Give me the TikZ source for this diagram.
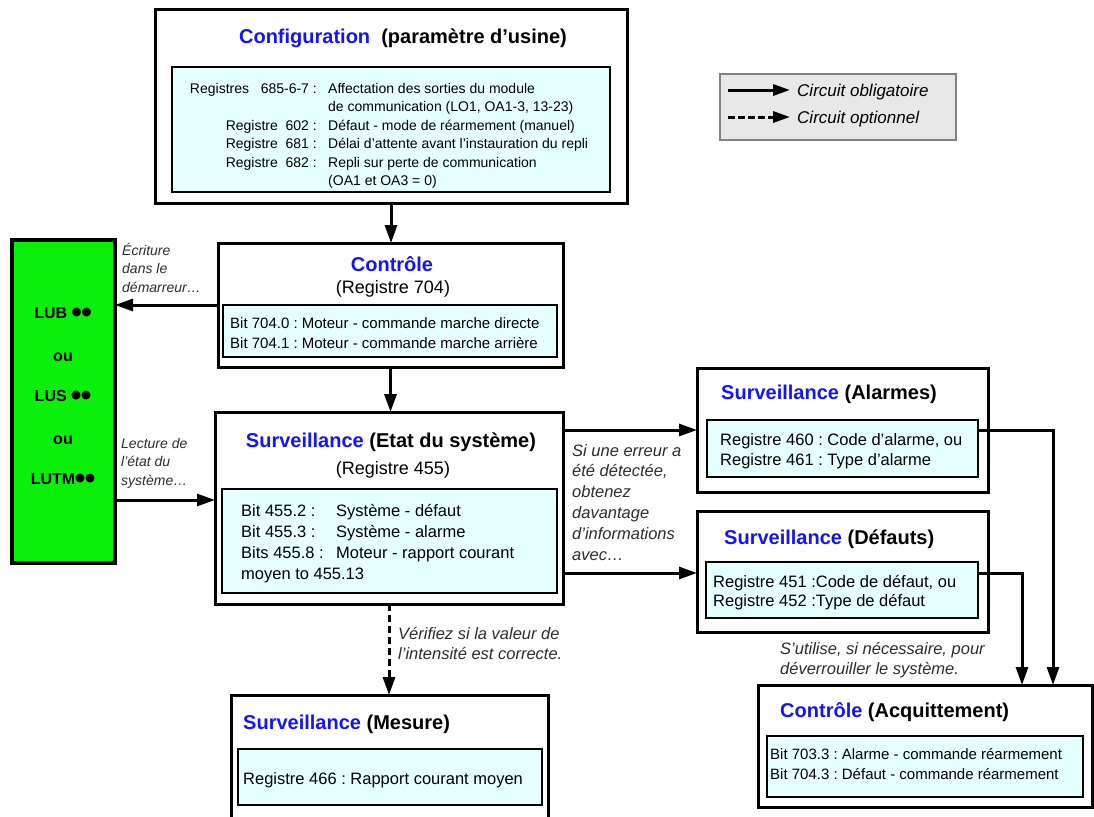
\documentclass[tikz,border=0pt]{standalone}
\usepackage{fontspec}
\setmainfont{Liberation Sans}
\newfontfamily\dvfont{DejaVu Sans}
\usetikzlibrary{arrows.meta}
\definecolor{ttlblue}{RGB}{20,20,245}
\definecolor{cyanfill}{RGB}{230,255,255}
\definecolor{lgdfill}{RGB}{232,232,232}
\definecolor{lgdline}{RGB}{130,130,130}
\definecolor{grn}{RGB}{10,240,10}
\definecolor{notegray}{RGB}{45,45,45}
\newcommand\blu[1]{\textcolor{ttlblue}{#1}}
\newcommand\twodots{\raisebox{2.5pt}{\dvfont\fontsize{11.5}{11.5}\selectfont ●●}}
\frenchspacing
\begin{document}
\frenchspacing
\begin{tikzpicture}[x=1pt,y=-1pt,
  outerbox/.style={draw, line width=3pt, fill=white, inner sep=0pt, outer sep=0pt, anchor=north west},
  innerbox/.style={draw, line width=2.5pt, fill=cyanfill, inner sep=0pt, outer sep=0pt, anchor=north west},
  arr/.style={line width=3pt, -{Triangle[length=18pt,width=12pt]}},
  darr/.style={arr, dash pattern=on 7pt off 4pt},
  ttl/.style={font=\fontsize{20}{23}\selectfont\bfseries, anchor=base, inner sep=0pt},
  sub/.style={font=\fontsize{18}{21}\selectfont, anchor=base, inner sep=0pt},
  cfgt/.style={font=\fontsize{14}{17}\selectfont, anchor=base west, inner sep=0pt},
  nar/.style={font=\fontsize{15}{18}\selectfont, anchor=base west, inner sep=0pt},
  wide/.style={font=\fontsize{16.5}{20}\selectfont, anchor=base west, inner sep=0pt},
  note/.style={font=\fontsize{16.5}{20}\selectfont\itshape, text=notegray, anchor=base west, inner sep=0pt},
  lnote/.style={font=\fontsize{14}{17}\selectfont\itshape, text=notegray, anchor=base west, inner sep=0pt},
  lgd/.style={font=\fontsize{17}{20}\selectfont\itshape, anchor=base west, inner sep=0pt},
  grnt/.style={font=\fontsize{16}{19}\selectfont\bfseries, anchor=base, inner sep=0pt}
]
\useasboundingbox (0,0) rectangle (1094,816);
\fill[white] (0,0) rectangle (1094,816);
\clip (0,0) rectangle (1094,816);

% boxes
\node[outerbox, minimum width=472pt, minimum height=193pt] (cfg) at (155,10) {};
\node[innerbox, minimum width=438pt, minimum height=125pt] (cfgin) at (172,67) {};
\node[outerbox, minimum width=345pt, minimum height=124pt] (ctl) at (218,243) {};
\node[innerbox, minimum width=334pt, minimum height=52pt] (ctlin) at (223,305) {};
\node[outerbox, minimum width=348pt, minimum height=192pt] (etat) at (215,412) {};
\node[innerbox, minimum width=335pt, minimum height=104pt] (etatin) at (222,489) {};
\node[outerbox, minimum width=291pt, minimum height=124pt] (alm) at (697,368) {};
\node[innerbox, minimum width=271pt, minimum height=57pt] (almin) at (707,420) {};
\node[outerbox, minimum width=291pt, minimum height=121pt] (def) at (697,511) {};
\node[innerbox, minimum width=272pt, minimum height=56pt] (defin) at (706,562) {};
\node[outerbox, minimum width=334pt, minimum height=122pt] (acq) at (758,685) {};
\node[innerbox, minimum width=316pt, minimum height=61pt] (acqin) at (767,736) {};
\node[outerbox, minimum width=317pt, minimum height=140pt] (mes) at (231,695) {};
\node[innerbox, minimum width=304pt, minimum height=56pt] (mesin) at (238,749) {};
\node[draw, line width=4.5pt, fill=grn, inner sep=0pt, outer sep=0pt, anchor=north west, minimum width=103pt, minimum height=323pt] (grnbox) at (12,240) {};
\node[draw=lgdline, line width=1.5pt, fill=lgdfill, inner sep=0pt, outer sep=0pt, anchor=north west, minimum width=236pt, minimum height=66pt] (lgdbox) at (720,74) {};

% helper coordinates
\coordinate (yread) at (0,500);
\coordinate (yalm) at (0,430);
\coordinate (ydef) at (0,573);
\coordinate (xalm) at (1053,0);
\coordinate (xdef) at (1022,0);
\coordinate (l1a) at (728,90);
\coordinate (l1b) at (790,90);
\coordinate (l2a) at (728,117);
\coordinate (l2b) at (790,117);

% connectors
\draw[arr] (cfg.south) -- (cfg.south |- ctl.north);
\draw[arr] (ctl.south) -- (ctl.south |- etat.north);
\draw[arr] (ctl.west) -- (ctl.west -| grnbox.east);
\draw[arr] (grnbox.east |- yread) -- (etat.west |- yread);
\draw[arr] (etat.east |- yalm) -- (alm.west |- yalm);
\draw[arr] (etat.east |- ydef) -- (def.west |- ydef);
\draw[darr] (etat.south) -- (etat.south |- mes.north);
\draw[arr] (almin.east |- yalm) -| (acq.north -| xalm);
\draw[arr] (defin.east |- ydef) -| (acq.north -| xdef);
\draw[line width=3pt, -{Triangle[length=17pt,width=11pt]}] (l1a) -- (l1b);
\draw[line width=3pt, dash pattern=on 7pt off 3pt, -{Triangle[length=17pt,width=11pt]}] (l2a) -- (l2b);

% legend text
\node[lgd] (lg1) at (797,96) {Circuit obligatoire};
\node[lgd] (lg2) at (797,123) {Circuit optionnel};

% configuration
\node[ttl] (cfgttl) at (403,44) {\blu{Configuration}\ \ (paramètre d’usine)};
\node[cfgt, anchor=base east] (c1l) at (317,93) {Registres\ \ \ 685-6-7 :};
\node[cfgt, anchor=base east] (c3l) at (317,130) {Registre\ \ 602 :};
\node[cfgt, anchor=base east] (c4l) at (317,148.5) {Registre\ \ 681 :};
\node[cfgt, anchor=base east] (c5l) at (317,167) {Registre\ \ 682 :};
\node[cfgt] (c1r) at (328,93) {Affectation des sorties du module};
\node[cfgt] (c2r) at (328,111.5) {de communication (LO1, OA1-3, 13-23)};
\node[cfgt] (c3r) at (328,130) {Défaut - mode de réarmement (manuel)};
\node[cfgt] (c4r) at (328,148.5) {Délai d’attente avant l’instauration du repli};
\node[cfgt] (c5r) at (328,167) {Repli sur perte de communication};
\node[cfgt] (c6r) at (328,185.5) {(OA1 et OA3 = 0)};

% controle
\node[ttl] (ctlttl) at (392,271) {\blu{Contrôle}};
\node[sub] (ctlsub) at (393,293.5) {(Registre 704)};
\node[nar] (ct1) at (230,328.5) {Bit 704.0 : Moteur - commande marche directe};
\node[nar] (ct2) at (230,348.5) {Bit 704.1 : Moteur - commande marche arrière};

% surveillance etat
\node[ttl] (etttl) at (391,447) {\blu{Surveillance} (Etat du système)};
\node[sub] (etsub) at (393,474.5) {(Registre 455)};
\node[wide] (e1l) at (241,516) {Bit 455.2 :};
\node[wide] (e1r) at (336,516) {Système - défaut};
\node[wide] (e2l) at (241,537) {Bit 455.3 :};
\node[wide] (e2r) at (336,537) {Système - alarme};
\node[wide] (e3l) at (241,558) {Bits 455.8 :};
\node[wide] (e3r) at (336,558) {Moteur - rapport courant};
\node[wide] (e4l) at (241,579) {moyen to 455.13};

% alarmes
\node[ttl, anchor=base west] (almttl) at (721,399) {\blu{Surveillance} (Alarmes)};
\node[wide] (a1) at (720,445) {Registre 460 : Code d’alarme, ou};
\node[wide] (a2) at (720,465) {Registre 461 : Type d’alarme};

% defauts
\node[ttl, anchor=base west] (defttl) at (724,544) {\blu{Surveillance} (Défauts)};
\node[wide] (d1) at (713,587) {Registre 451 :Code de défaut, ou};
\node[wide] (d2) at (713,606) {Registre 452 :Type de défaut};

% mesure
\node[ttl, anchor=base west] (mesttl) at (243,729) {\blu{Surveillance} (Mesure)};
\node[wide] (m1) at (243,784) {Registre 466 : Rapport courant moyen};

% acquittement
\node[ttl, anchor=base west] (acqttl) at (780,717) {\blu{Contrôle} (Acquittement)};
\node[nar] (q1) at (770,759.5) {Bit 703.3 : Alarme - commande réarmement};
\node[nar] (q2) at (770,779.5) {Bit 704.3 : Défaut - commande réarmement};

% notes
\node[lnote] (w1) at (122,255) {Écriture};
\node[lnote] (w2) at (122,273.5) {dans le};
\node[lnote] (w3) at (122,292) {démarreur…};
\node[lnote] (r1) at (121,448) {Lecture de};
\node[lnote] (r2) at (121,466.5) {l’état du};
\node[lnote] (r3) at (121,485) {système…};
\node[note] (s1) at (572,456) {Si une erreur a};
\node[note] (s2) at (572,476.8) {été détectée,};
\node[note] (s3) at (572,497.6) {obtenez};
\node[note] (s4) at (572,518.4) {davantage};
\node[note] (s5) at (572,539.2) {d’informations};
\node[note] (s6) at (572,560) {avec…};
\node[note] (v1) at (398,639) {Vérifiez si la valeur de};
\node[note] (v2) at (398,659) {l’intensité est correcte.};
\node[note] (u1) at (780,654) {S’utilise, si nécessaire, pour};
\node[note] (u2) at (780,674) {déverrouiller le système.};

% green box text
\node[grnt] (g1) at (63,318) {LUB \twodots};
\node[grnt] (g2) at (63,361) {ou};
\node[grnt] (g3) at (63,401) {LUS \twodots};
\node[grnt] (g4) at (63,444) {ou};
\node[grnt] (g5) at (63,484) {LUTM\twodots};
\end{tikzpicture}
\end{document}
